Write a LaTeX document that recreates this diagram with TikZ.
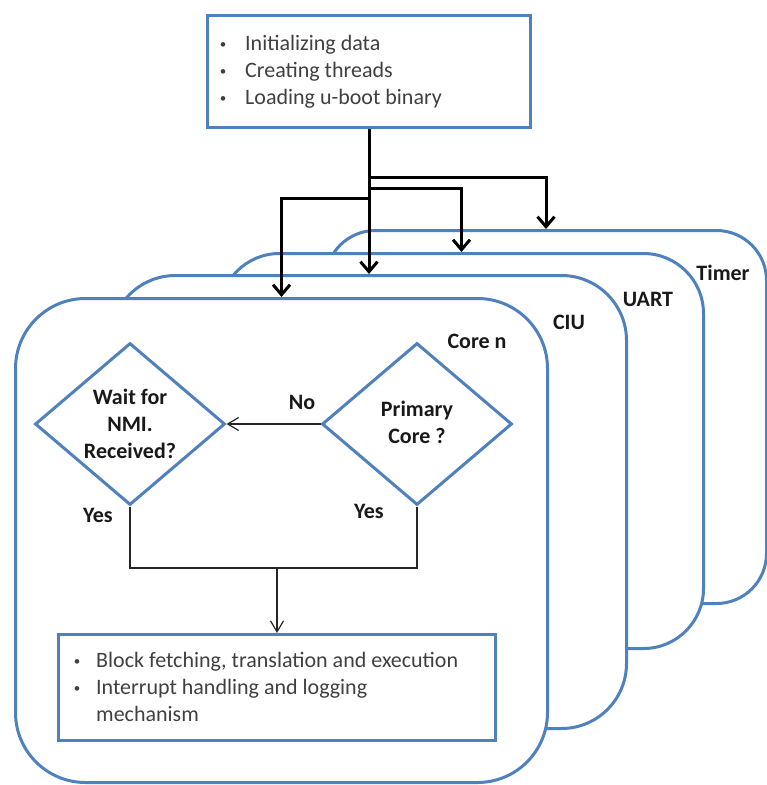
\documentclass[tikz,border=0pt]{standalone}
\usepackage{fontspec}
\setmainfont{Carlito}
\usetikzlibrary{shapes.geometric,arrows.meta}
\definecolor{boxblue}{HTML}{4F81BD}
\newcommand{\mybul}{\makebox[10pt][c]{\raisebox{2pt}{\fontsize{13}{13}\selectfont\textbullet}}}
\begin{document}
\begin{tikzpicture}[x=1pt,y=-1pt,
  panel/.style={draw=boxblue, line width=3pt, fill=white, rounded corners=#1, inner sep=0pt, anchor=north west},
  sqbox/.style={draw=boxblue, line width=3pt, fill=white, inner sep=0pt, anchor=north west},
  diam/.style={diamond, draw=boxblue, line width=3pt, inner sep=0pt, minimum width=190pt, minimum height=162pt},
  lbl/.style={font=\fontsize{22}{27}\selectfont\bfseries, text=black!90, inner sep=0pt},
  bodytext/.style={font=\fontsize{22}{27}\selectfont, text=black!75, inner sep=0pt, anchor=north west},
  bigarrow/.style={line width=3pt, draw=black, -{Straight Barb[length=10pt,width=17pt]}},
  smallarrow/.style={line width=1.2pt, draw=black!85, -{Straight Barb[length=11pt,width=13pt]}},
  thinline/.style={line width=1.2pt, draw=black!85}]
\useasboundingbox (0,0) rectangle (767,785);

% stacked panels
\node[panel=50pt, minimum width=441pt, minimum height=373pt] (timer) at (324,229) {};
\node[panel=60pt, minimum width=484pt, minimum height=395pt] (uart) at (218,252) {};
\node[panel=65pt, minimum width=516pt, minimum height=453pt] (ciu) at (109,274) {};
\node[panel=70pt, minimum width=532pt, minimum height=484pt] (core) at (14,297) {};

\node[lbl, anchor=base] (ltimer) at (723,280) {Timer};
\node[lbl, anchor=base] (luart) at (648,306) {UART};
\node[lbl, anchor=base] (lciu) at (569,329) {CIU};
\node[lbl, anchor=base] (lcore) at (477,348) {Core n};

% top box
\node[sqbox, minimum width=323pt, minimum height=112pt] (top) at (206,14) {};
\node[bodytext] (toptext) at (218,31) {\begin{tabular}{@{}l@{\hspace{17pt}}l@{}}
\mybul & Initializing data\\
\mybul & Creating threads\\
\mybul & Loading u-boot binary
\end{tabular}};

% diamonds
\node[diam] (wait) at (130,424) {};
\node[diam] (prim) at (417,424) {};
\node[lbl] (waittext) at (130,426) {\begin{tabular}{@{}c@{}}Wait for\\NMI.\\Received?\end{tabular}};
\node[lbl] (primtext) at (417,425) {\begin{tabular}{@{}c@{}}Primary\\Core ?\end{tabular}};

\node[lbl, anchor=base] (no) at (302,409) {No};
\node[lbl, anchor=base] (yes1) at (98,522) {Yes};
\node[lbl, anchor=base] (yes2) at (369,518) {Yes};

% bottom box
\node[sqbox, minimum width=437pt, minimum height=106pt] (exec) at (57,633) {};
\node[bodytext] (exectext) at (72,648) {\begin{tabular}{@{}l@{\hspace{14pt}}l@{}}
\mybul & Block fetching, translation and execution\\
\mybul & Interrupt handling and logging\\
 & mechanism
\end{tabular}};

% thin connectors
\coordinate (my) at (0,568);
\draw[smallarrow] (prim.west) -- (wait.east);
\draw[thinline] (wait.south) -- (wait.south |- my) -- (prim.south |- my) -- (prim.south);
\draw[smallarrow] (exec.north |- my) -- (exec.north);

% thick distribution arrows
\coordinate (y1) at (0,177);
\coordinate (y2) at (0,188);
\coordinate (y3) at (0,198);
\coordinate (j1) at (top.south |- y1);
\coordinate (j2) at (top.south |- y2);
\coordinate (j3) at (top.south |- y3);
\draw[bigarrow] (top.south) -- (top.south |- ciu.north);
\draw[bigarrow] (j1) -| (timer.north);
\draw[bigarrow] (j2) -| (uart.north);
\draw[bigarrow] (j3) -| (core.north);
\end{tikzpicture}
\end{document}
